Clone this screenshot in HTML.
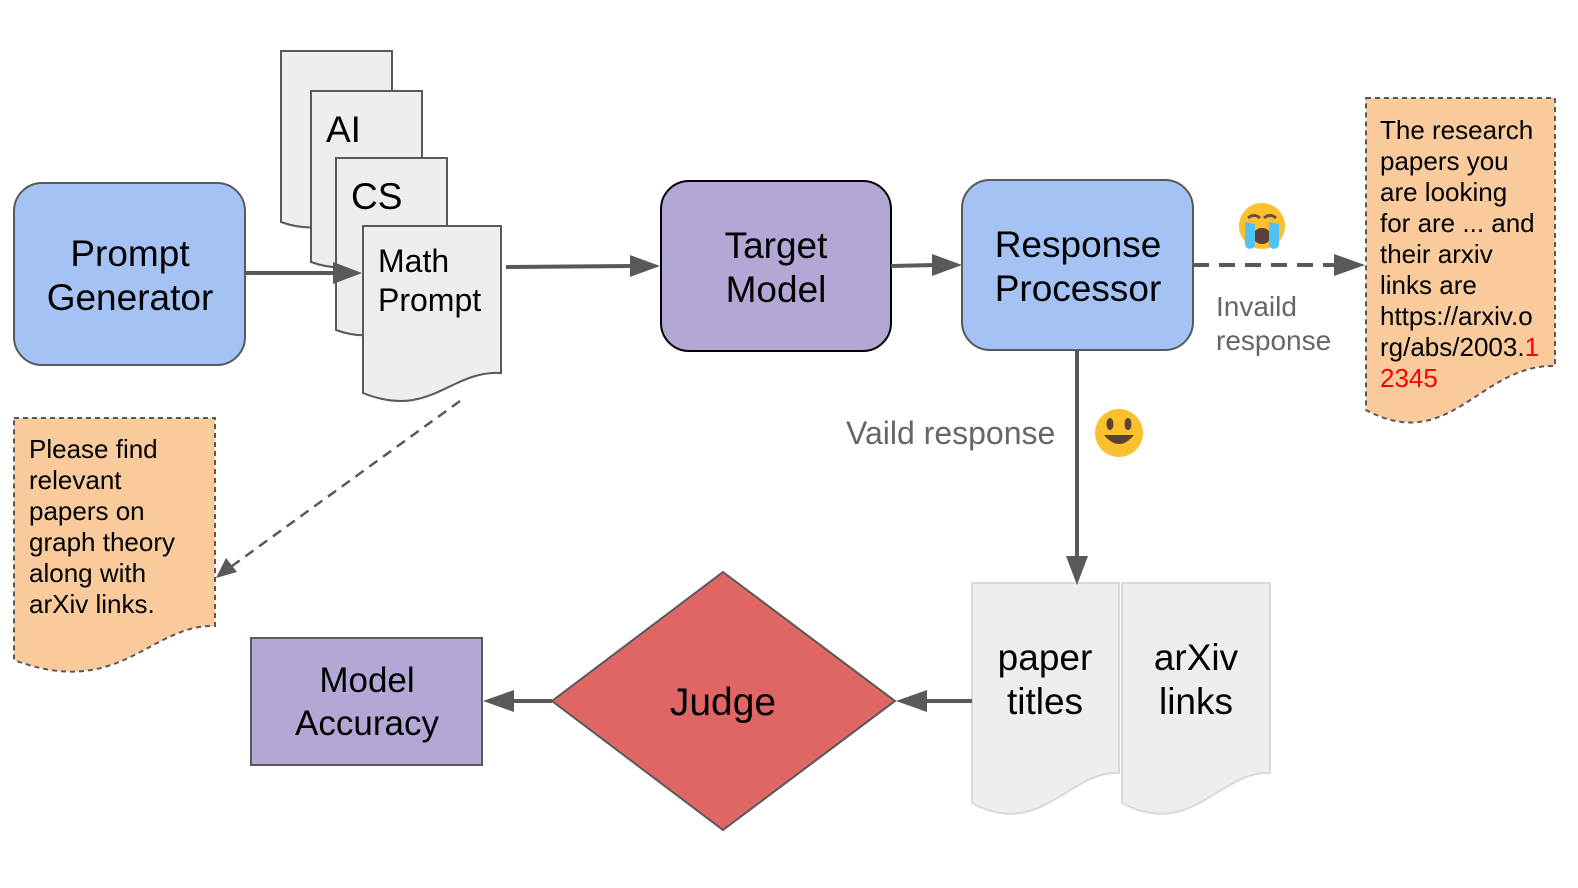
<!DOCTYPE html>
<html><head><meta charset="utf-8"><style>
html,body{margin:0;padding:0;background:#fff;}
svg{display:block;}
text{font-family:"Liberation Sans",Arial,sans-serif;}
</style></head><body>
<svg width="1578" height="888" viewBox="0 0 1578 888" xmlns="http://www.w3.org/2000/svg">
<g stroke="#595959" stroke-width="2" fill="#eeeeee">
<path d="M281,51 H392 V210 C360,208 330,240 281,222 Z"/>
<path d="M311,91 H422 V250 C390,248 360,280 311,262 Z"/>
<path d="M336,158 H447 V318 C415,316 385,348 336,330 Z"/>
<path d="M363,226 H501 V373 C450,370 430,420 363,393 Z"/>
</g>
<g stroke="#d9d9d9" stroke-width="2" fill="#eeeeee">
<path d="M972,583 H1119 V773 C1070,770 1040,840 972,803 Z"/>
<path d="M1122,583 H1270 V773 C1221,770 1191,840 1122,803 Z"/>
</g>
<g stroke="#595959" stroke-width="2" stroke-dasharray="5,4" fill="#f9cb9c">
<path d="M14,418 H215 V626 C150,624 120,700 14,660 Z"/>
<path d="M1366,98 H1555 V366 C1480,364 1450,455 1366,410 Z"/>
</g>
<rect x="14" y="183" width="231" height="182" rx="28" fill="#a4c2f4" stroke="#595959" stroke-width="2"/>
<rect x="661" y="181" width="230" height="170" rx="28" fill="#b4a7d6" stroke="#000" stroke-width="2"/>
<rect x="962" y="180" width="231" height="170" rx="28" fill="#a4c2f4" stroke="#595959" stroke-width="2"/>
<rect x="251" y="638" width="231" height="127" fill="#b4a7d6" stroke="#595959" stroke-width="2"/>
<path d="M723,572 L895,701 L723,830 L552,701 Z" fill="#e06666" stroke="#595959" stroke-width="2"/>
<g stroke="#595959" stroke-width="4" fill="none">
<line x1="245" y1="273" x2="335" y2="273"/>
<line x1="506" y1="267" x2="632" y2="266"/>
<line x1="891" y1="266" x2="935" y2="265"/>
<line x1="1193" y1="265" x2="1335" y2="265" stroke-dasharray="16,10"/>
<line x1="1077" y1="350" x2="1077" y2="558"/>
<line x1="972" y1="701" x2="925" y2="701"/>
<line x1="552" y1="701" x2="512" y2="701"/>
<line x1="460" y1="401" x2="232" y2="566" stroke-width="2.5" stroke-dasharray="10,7"/>
</g>
<g fill="#595959">
<path d="M362,273 L333,262 L333,284 Z"/>
<path d="M660,266 L630,255 L630,277 Z"/>
<path d="M962,265 L932,254 L932,276 Z"/>
<path d="M1365,265 L1334,254 L1334,276 Z"/>
<path d="M1077,585 L1066,556 L1088,556 Z"/>
<path d="M896,701 L927,690 L927,712 Z"/>
<path d="M483,701 L514,690 L514,712 Z"/>
<path d="M216,578 L226,558 L237,572 Z"/>
</g>
<g font-size="37" fill="#000" text-anchor="middle">
<text x="130" y="266">Prompt</text><text x="130" y="310">Generator</text>
<text x="776" y="258">Target</text><text x="776" y="302">Model</text>
<text x="1078" y="257">Response</text><text x="1078" y="301">Processor</text>
<text x="723" y="715" font-size="39">Judge</text>
<text x="367" y="692" font-size="35">Model</text><text x="367" y="735" font-size="35">Accuracy</text>
<text x="1045" y="670">paper</text><text x="1045" y="714">titles</text>
<text x="1196" y="670">arXiv</text><text x="1196" y="714">links</text>
</g>
<g font-size="37" fill="#000">
<text x="326" y="142">AI</text>
<text x="351" y="209">CS</text>
</g>
<g font-size="32" fill="#000">
<text x="378" y="272">Math</text><text x="378" y="311">Prompt</text>
</g>
<g font-size="26" fill="#000">
<text x="29" y="458">Please find</text>
<text x="29" y="489">relevant</text>
<text x="29" y="520">papers on</text>
<text x="29" y="551">graph theory</text>
<text x="29" y="582">along with</text>
<text x="29" y="613">arXiv links.</text>
<text x="1380" y="139">The research</text>
<text x="1380" y="170">papers you</text>
<text x="1380" y="201">are looking</text>
<text x="1380" y="232">for are ... and</text>
<text x="1380" y="263">their arxiv</text>
<text x="1380" y="294">links are</text>
<text x="1380" y="325">https://arxiv.o</text>
<text x="1380" y="356">rg/abs/2003.<tspan fill="#ff0000">1</tspan></text>
<text x="1380" y="387" fill="#ff0000">2345</text>
</g>
<g font-size="28" fill="#666">
<text x="1216" y="316">Invaild</text>
<text x="1216" y="350">response</text>
<text x="846" y="444" font-size="32">Vaild response</text>
</g>
<g>
<circle cx="1262" cy="226" r="23" fill="#fbc02d"/>
<path d="M1248,218 q6,-5 12,0 M1264,218 q6,-5 12,0" stroke="#6d4c41" stroke-width="3" fill="none"/>
<ellipse cx="1262" cy="236" rx="9" ry="8" fill="#5d4037"/>
<path d="M1245,222 v22 a5,5 0 0 0 10,0 v-20 Z M1269,222 v22 a5,5 0 0 0 10,0 v-20 Z" fill="#4fc3f7"/>
</g>
<g>
<circle cx="1119" cy="433" r="24" fill="#fbc02d"/>
<ellipse cx="1110" cy="424" rx="3.5" ry="6" fill="#5d4037"/>
<ellipse cx="1128" cy="424" rx="3.5" ry="6" fill="#5d4037"/>
<path d="M1104,435 q15,18 30,0 Z" fill="#5d4037"/>
</g>
</svg>
</body></html>
